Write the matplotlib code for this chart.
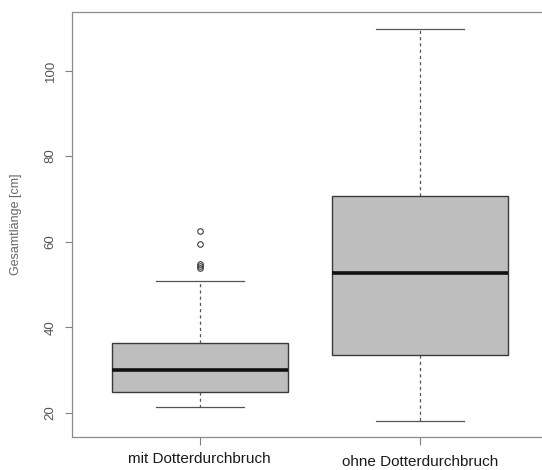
import matplotlib
matplotlib.use("Agg")
import matplotlib.pyplot as plt
from matplotlib.transforms import ScaledTranslation

plt.rcParams['font.family'] = ['Liberation Sans', 'DejaVu Sans']

categories = ["mit Dotterdurchbruch", "ohne Dotterdurchbruch"]
q1 = [24.9, 33.5]
medians = [30.0, 52.7]
q3 = [36.3, 70.6]
whislo = [21.4, 18.1]
whishi = [50.8, 109.8]
fliers = [[53.8, 54.3, 54.8, 59.4, 62.4], []]
yticks = [20, 40, 60, 80, 100]

stats = []
for i, c in enumerate(categories):
    stats.append(dict(label=c, med=medians[i], q1=q1[i], q3=q3[i],
                      whislo=whislo[i], whishi=whishi[i], fliers=fliers[i]))

fig = plt.figure(figsize=(5.42, 4.70), dpi=100)
ax = fig.add_axes([72/542, 33/470, 475.6/542, 425/470])

edge = '#3a3a3a'
ax.bxp(stats, positions=[1, 2], widths=0.8, patch_artist=True,
       boxprops=dict(facecolor='#BEBEBE', edgecolor=edge, linewidth=1.0),
       medianprops=dict(color='#111111', linewidth=2.6, solid_capstyle='butt'),
       whiskerprops=dict(color='#555555', linewidth=0.9, linestyle=(0, (2.5, 2.5))),
       capprops=dict(color='#555555', linewidth=0.9),
       capwidths=0.4,
       flierprops=dict(marker='o', markersize=4, markerfacecolor='none',
                       markeredgecolor=edge, markeredgewidth=0.8))

ax.set_xlim(0.42, 2.58)
ax.set_ylim(14.32, 113.68)
ax.set_yticks(yticks)
ax.set_yticklabels([str(t) for t in yticks], rotation=90, va='center',
                   fontsize=9.5, color='#555555')
ax.set_xticks([1, 2])
ax.set_xticklabels(categories, fontsize=11, color='#1a1a1a')
ax.tick_params(axis='y', length=5, width=0.8, color='#808080', pad=6)
ax.tick_params(axis='x', length=6, width=0.8, color='#808080', pad=5)
for s in ['left', 'top', 'bottom', 'right']:
    ax.spines[s].set_color('#8a8a8a')
    ax.spines[s].set_linewidth(0.9)
ax.set_ylabel("Gesamtlänge [cm]", fontsize=9, color='#666666', labelpad=16)

lbls = ax.get_xticklabels()
lbls[1].set_transform(lbls[1].get_transform() +
                      ScaledTranslation(0, -3/100, fig.dpi_scale_trans))

fig.savefig("out.png", dpi=100)
